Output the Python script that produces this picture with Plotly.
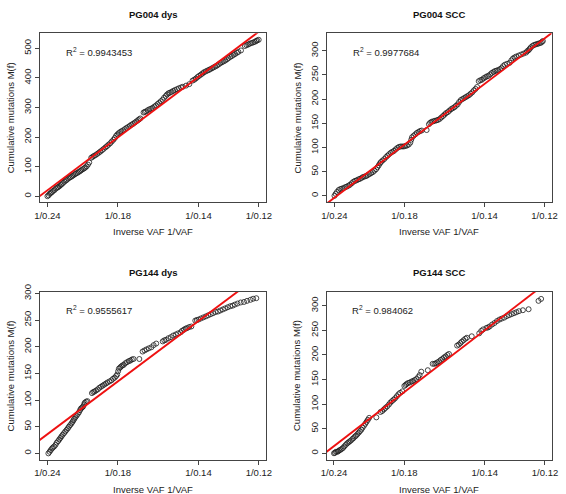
import plotly.graph_objects as go

# ---------------- data ----------------
titles = ["PG004 dys", "PG004 SCC", "PG144 dys", "PG144 SCC"]
r2_values = ["0.9943453", "0.9977684", "0.9555617", "0.984062"]
tick_vaf = [0.24, 0.18, 0.14, 0.12]
tick_labels = ["1/0.24", "1/0.18", "1/0.14", "1/0.12"]

pg004_dys_x = [4.167, 4.19, 4.212, 4.235, 4.257, 4.28, 4.308, 4.335, 4.360, 4.38,
               4.405, 4.43, 4.450, 4.475, 4.502, 4.53, 4.553, 4.58, 4.605, 4.63,
               4.656, 4.68, 4.708, 4.73, 4.759, 4.785, 4.811, 4.835, 4.862, 4.89,
               4.914, 4.94, 4.966, 4.991,
               5.030, 5.055, 5.082, 5.115, 5.146, 5.18, 5.210, 5.24, 5.275, 5.31,
               5.339, 5.37, 5.404, 5.435, 5.468, 5.495, 5.520, 5.545, 5.571, 5.60,
               5.629, 5.66, 5.694, 5.725, 5.758, 5.79, 5.823, 5.855, 5.887, 5.92,
               5.951, 5.975, 5.997,
               6.061, 6.085, 6.112, 6.145, 6.177, 6.21, 6.241, 6.275, 6.306, 6.34,
               6.370, 6.40, 6.435, 6.465, 6.499, 6.525, 6.551,
               6.58, 6.615, 6.645, 6.679, 6.72, 6.757, 6.80, 6.834, 6.898, 6.963,
               7.027, 7.06, 7.092, 7.125, 7.156, 7.19, 7.221, 7.25, 7.285, 7.32,
               7.350, 7.38, 7.414, 7.445, 7.478, 7.51, 7.543, 7.575, 7.607, 7.64,
               7.672, 7.705, 7.736, 7.77, 7.801, 7.835, 7.865, 7.90, 7.930, 7.981,
               8.058, 8.09, 8.123, 8.155, 8.187, 8.22, 8.252, 8.28, 8.30, 8.33]
pg004_dys_y = [0, 3, 8, 11, 14, 18, 21, 26, 29, 31,
               34, 38, 41, 45, 49, 53, 56, 60, 63, 65,
               68, 71, 74, 77, 79, 82, 85, 88, 91, 94,
               97, 101, 107, 114,
               130, 133, 136, 139, 143, 147, 151, 155, 160, 165,
               169, 174, 179, 185, 191, 197, 204, 209, 213, 217,
               220, 223, 227, 231, 234, 238, 242, 245, 249, 253,
               257, 260, 263,
               283, 285, 287, 291, 294, 296, 299, 303, 307, 312,
               316, 321, 326, 333, 339, 344, 348,
               350, 353, 356, 359, 362, 365, 368, 370, 374, 379,
               391, 394, 398, 403, 407, 411, 415, 419, 422, 425,
               427, 430, 433, 436, 439, 442, 446, 450, 453, 456,
               459, 463, 467, 471, 474, 478, 481, 485, 488, 493,
               508, 511, 513, 516, 518, 520, 522, 525, 527, 529]

pg004_scc_x = [4.167, 4.19, 4.218, 4.25, 4.283, 4.315, 4.348, 4.38, 4.412, 4.445,
               4.477, 4.51, 4.541, 4.575, 4.606, 4.64, 4.671, 4.705, 4.735, 4.77,
               4.800, 4.83, 4.864, 4.895, 4.929, 4.96, 4.993, 5.02, 5.045, 5.068,
               5.090, 5.12, 5.155, 5.19, 5.220, 5.25, 5.284, 5.315, 5.349, 5.38,
               5.413, 5.445, 5.478, 5.51, 5.543, 5.575, 5.607, 5.64, 5.672, 5.69,
               5.704, 5.735, 5.769, 5.80, 5.833, 5.865, 5.898, 5.995,
               6.040, 6.065, 6.092, 6.125, 6.156, 6.19, 6.221, 6.255, 6.286, 6.32,
               6.350, 6.38, 6.415, 6.445, 6.479, 6.51, 6.544, 6.575, 6.609, 6.64,
               6.673, 6.705, 6.738, 6.77, 6.802, 6.835, 6.867, 6.90, 6.932, 6.965,
               6.996, 7.028, 7.06, 7.093, 7.125, 7.158, 7.19, 7.222, 7.255, 7.287,
               7.32, 7.351, 7.385, 7.416, 7.45, 7.481, 7.51, 7.545, 7.59, 7.642,
               7.675, 7.707, 7.74, 7.771, 7.82, 7.868, 7.915, 7.965, 7.99, 8.017,
               8.04, 8.062, 8.095, 8.127, 8.16, 8.191, 8.22, 8.256, 8.28, 8.300]
pg004_scc_y = [0, 4, 8, 12, 14, 15, 16, 18, 19, 21,
               23, 26, 29, 31, 32, 34, 35, 37, 39, 40,
               41, 43, 45, 47, 49, 52, 55, 59, 63, 67,
               70, 73, 76, 80, 83, 86, 89, 91, 93, 96,
               99, 101, 102, 102, 102, 103, 104, 106, 110, 116,
               121, 124, 127, 130, 132, 134, 135, 136,
               148, 151, 153, 154, 155, 156, 157, 159, 162, 165,
               168, 171, 173, 176, 179, 181, 183, 186, 189, 194,
               198, 200, 202, 204, 206, 208, 211, 214, 218, 221,
               225, 237, 239, 240, 243, 245, 247, 248, 251, 254,
               256, 258, 259, 260, 262, 264, 268, 271, 273, 275,
               280, 284, 286, 288, 290, 292, 294, 296, 299, 301,
               304, 307, 310, 312, 313, 314, 315, 316, 318, 320]

pg144_dys_x = [4.186, 4.21, 4.231, 4.255, 4.275, 4.30, 4.327, 4.35, 4.378, 4.40,
               4.423, 4.445, 4.468, 4.495, 4.519, 4.545, 4.570, 4.59, 4.615, 4.64,
               4.660, 4.68, 4.698, 4.72, 4.743, 4.765, 4.788, 4.81, 4.826, 4.85,
               4.871, 4.89, 4.903, 4.93, 4.954,
               5.044, 5.07, 5.095, 5.125, 5.159, 5.19, 5.223, 5.255, 5.287, 5.32,
               5.351, 5.39, 5.428, 5.46, 5.492, 5.52, 5.543, 5.56, 5.575, 5.60,
               5.620, 5.645, 5.671, 5.70, 5.735, 5.77, 5.799, 5.83, 5.863, 5.978,
               6.042, 6.08, 6.119, 6.165, 6.215, 6.26, 6.311, 6.439, 6.47, 6.503,
               6.55, 6.599, 6.645, 6.695, 6.74, 6.791, 6.82, 6.856, 6.89, 6.920,
               6.96, 7.003, 7.080, 7.11, 7.144, 7.19, 7.240, 7.29, 7.336, 7.385,
               7.432, 7.48, 7.528, 7.575, 7.624, 7.67, 7.720, 7.77, 7.816, 7.86,
               7.912, 7.975, 8.040, 8.10, 8.168, 8.22, 8.283]
pg144_dys_y = [0, 3, 6, 9, 11, 13, 16, 20, 23, 26,
               29, 32, 35, 38, 41, 44, 47, 50, 53, 56,
               59, 62, 65, 68, 71, 74, 77, 81, 84, 86,
               88, 92, 95, 97, 98,
               113, 115, 116, 118, 120, 123, 125, 127, 129, 131,
               133, 135, 137, 140, 142, 145, 148, 154, 159, 161,
               163, 165, 166, 169, 171, 173, 174, 176, 177, 177,
               191, 193, 195, 197, 199, 203, 206, 210, 212, 213,
               216, 218, 221, 223, 225, 227, 230, 232, 234, 235,
               237, 238, 249, 250, 251, 253, 255, 257, 259, 261,
               263, 265, 266, 268, 270, 272, 274, 276, 277, 279,
               281, 283, 284, 286, 288, 290, 291]

pg144_scc_x = [4.167, 4.185, 4.205, 4.23, 4.250, 4.27, 4.295, 4.32, 4.347, 4.37,
               4.398, 4.425, 4.450, 4.475, 4.501, 4.53, 4.553, 4.58, 4.604, 4.63,
               4.656, 4.68, 4.707, 4.73, 4.758, 4.785, 4.810, 4.835, 4.861, 5.003,
               5.086, 5.12, 5.151, 5.18, 5.215, 5.25, 5.279, 5.31, 5.344, 5.375,
               5.408, 5.44, 5.472, 5.517, 5.556, 5.58, 5.601, 5.63, 5.665, 5.70,
               5.729, 5.76, 5.794, 5.83, 5.858, 5.890, 6.019, 6.115, 6.15, 6.180,
               6.21, 6.244, 6.275, 6.308, 6.34, 6.372, 6.405, 6.437, 6.598, 6.63,
               6.662, 6.69, 6.726, 6.76, 6.791, 6.887, 7.035, 7.075, 7.112, 7.176,
               7.21, 7.241, 7.29, 7.337, 7.385, 7.434, 7.48, 7.530, 7.58, 7.626,
               7.675, 7.723, 7.77, 7.819, 7.897, 8.010, 8.205, 8.257]
pg144_scc_y = [0, 1, 3, 3, 4, 6, 7, 9, 11, 14,
               17, 20, 22, 24, 26, 29, 31, 34, 36, 39,
               42, 45, 48, 52, 56, 60, 64, 68, 72, 73,
               84, 86, 89, 92, 95, 99, 103, 106, 109, 112,
               116, 120, 123, 126, 137, 139, 141, 143, 144, 146,
               147, 149, 151, 155, 159, 166, 169, 182, 182, 183,
               185, 187, 190, 192, 195, 197, 200, 202, 219, 221,
               224, 227, 230, 233, 235, 238, 244, 249, 252, 255,
               256, 258, 262, 265, 269, 272, 274, 276, 279, 281,
               283, 285, 287, 289, 291, 293, 310, 314]

fit_slope = [128.9, 79.0, 71.3, 79.2]
fit_intercept = [-517.3, -333.0, -261.0, -315.5]

y_ranges = [[-20, 551], [-13, 336], [-11.6, 302.6], [-12.8, 328]]
y_ticks = [[0, 100, 200, 300, 400, 500],
           [0, 50, 100, 150, 200, 250, 300],
           [0, 50, 100, 150, 200, 250, 300],
           [0, 50, 100, 150, 200, 250, 300]]
x_range = [4.02, 8.475]

series_x = [pg004_dys_x, pg004_scc_x, pg144_dys_x, pg144_scc_x]
series_y = [pg004_dys_y, pg004_scc_y, pg144_dys_y, pg144_scc_y]

# ---------------- layout geometry (pixels) ----------------
W, H = 566, 494
boxes = [  # left, right, top, bottom in pixels
    (34.7, 265.7, 25.7, 197.3),
    (328.0, 557.5, 25.7, 197.3),
    (34.7, 265.7, 288.7, 459.0),
    (327.5, 558.0, 288.7, 459.0),
]

FONT = "Liberation Sans, Arial, Helvetica, sans-serif"
fig = go.Figure()
annotations = []
layout_axes = {}

tick_x = [1.0 / v for v in tick_vaf]

for i in range(4):
    L, R, T, B = boxes[i]
    xa = "x" if i == 0 else f"x{i+1}"
    ya = "y" if i == 0 else f"y{i+1}"
    xkey = "xaxis" if i == 0 else f"xaxis{i+1}"
    ykey = "yaxis" if i == 0 else f"yaxis{i+1}"

    fig.add_trace(go.Scatter(
        x=series_x[i], y=series_y[i], mode="markers",
        marker=dict(symbol="circle-open", size=5, color="#1a1a1a",
                    line=dict(width=0.8, color="#1a1a1a")),
        xaxis=xa, yaxis=ya, showlegend=False, hoverinfo="x+y"))

    lx = [x_range[0] - 1.0, x_range[1] + 1.0]
    ly = [fit_intercept[i] + fit_slope[i] * v for v in lx]
    fig.add_trace(go.Scatter(
        x=lx, y=ly, mode="lines", line=dict(color="#ee1111", width=1.9),
        xaxis=xa, yaxis=ya, showlegend=False, hoverinfo="skip"))

    common = dict(showline=True, mirror=True, linecolor="#444444", linewidth=1,
                  ticks="outside", ticklen=4, tickwidth=0.8, tickcolor="#444444",
                  showgrid=False, zeroline=False,
                  tickfont=dict(family=FONT, size=9.5, color="#222222"))
    layout_axes[xkey] = dict(domain=[L / W, R / W], range=x_range, anchor=ya,
                             tickmode="array", tickvals=tick_x, ticktext=tick_labels,
                             **common)
    layout_axes[ykey] = dict(domain=[1 - B / H, 1 - T / H], range=y_ranges[i], anchor=xa,
                             tickmode="array", tickvals=y_ticks[i],
                             ticktext=[str(t) for t in y_ticks[i]], tickangle=-90,
                             **common)

    cx = (L + R) / 2
    # title
    annotations.append(dict(text="<b>" + titles[i] + "</b>", x=cx / W, y=1 - (T - 19.5) / H,
                            xref="paper", yref="paper", showarrow=False,
                            xanchor="center", yanchor="middle",
                            font=dict(family=FONT, size=9.5, color="#111111")))
    # x-axis title
    annotations.append(dict(text="Inverse VAF 1/VAF", x=cx / W, y=1 - (B + 30) / H,
                            xref="paper", yref="paper", showarrow=False,
                            xanchor="center", yanchor="middle",
                            font=dict(family=FONT, size=9.5, color="#222222")))
    # y-axis title
    annotations.append(dict(text="Cumulative mutations M(f)", x=(L - 30) / W,
                            y=1 - ((T + B) / 2) / H,
                            xref="paper", yref="paper", showarrow=False, textangle=-90,
                            xanchor="center", yanchor="middle",
                            font=dict(family=FONT, size=9.5, color="#222222")))
    # R^2
    annotations.append(dict(text="R<sup>2</sup> = " + r2_values[i],
                            x=0.106, y=0.892, xref=f"{xa} domain", yref=f"{ya} domain",
                            showarrow=False, xanchor="left", yanchor="middle",
                            font=dict(family=FONT, size=9.5, color="#222222")))

fig.update_layout(
    width=W, height=H, margin=dict(l=0, r=0, t=0, b=0),
    paper_bgcolor="white", plot_bgcolor="white",
    annotations=annotations, **layout_axes)

fig.write_html("out.html",
               config={"displayModeBar": False},
               post_script="document.body.style.margin='0';"
                           "document.body.style.overflow='hidden';")
